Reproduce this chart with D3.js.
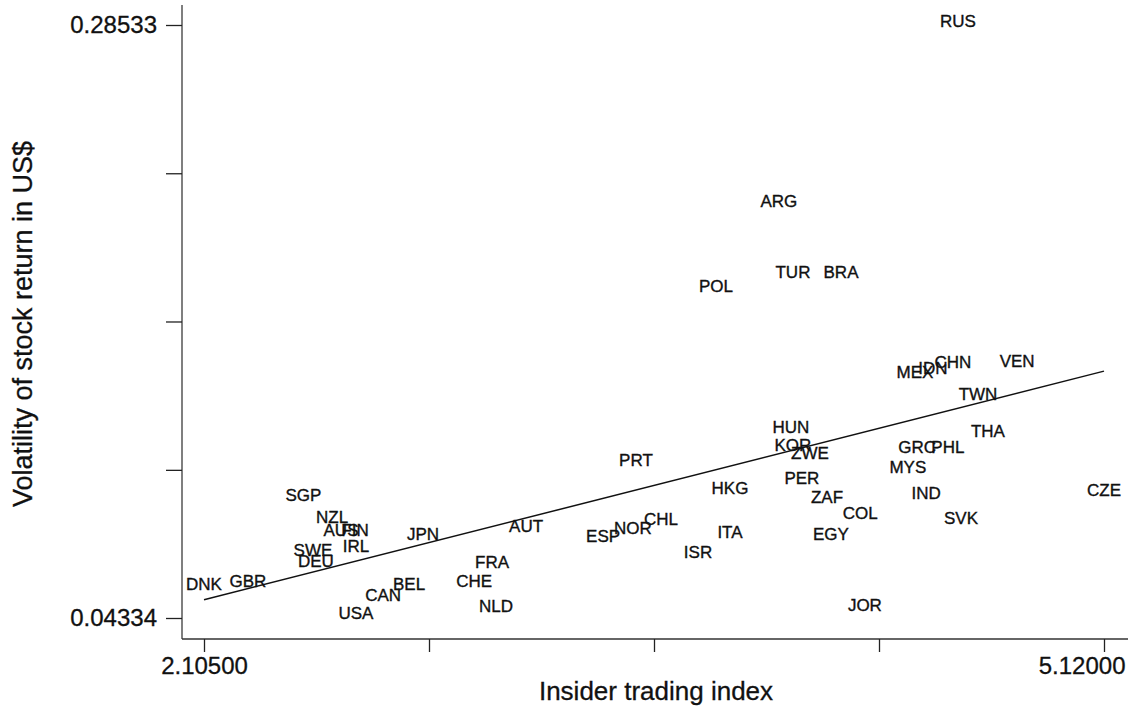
<!DOCTYPE html>
<html>
<head>
<meta charset="utf-8">
<script src="https://cdn.jsdelivr.net/npm/d3@7"></script>
<style>
  body { margin: 0; background: #fff; }
  svg { display: block; font-family: "Liberation Sans", Arial, sans-serif; }
</style>
</head>
<body>
<svg id="chart"></svg>
<script>
// country codes, insider trading index (x), volatility of stock return (y)
const countries = ["RUS","ARG","TUR","BRA","POL","MEX","IDN","CHN","VEN","TWN",
  "THA","GRC","PHL","MYS","IND","SVK","CZE","HUN","KOR","ZWE",
  "PER","HKG","ZAF","COL","EGY","JOR","PRT","ITA","ISR","CHL",
  "NOR","ESP","AUT","FRA","CHE","NLD","JPN","BEL","CAN","USA",
  "IRL","AUS","FIN","NZL","SGP","SWE","DEU","DNK","GBR"];
const insider = [4.631, 4.031, 4.078, 4.239, 3.820, 4.487, 4.547, 4.614, 4.829, 4.698,
  4.731, 4.494, 4.597, 4.463, 4.524, 4.641, 5.120, 4.071, 4.078, 4.135,
  4.108, 3.867, 4.192, 4.303, 4.205, 4.319, 3.552, 3.867, 3.760, 3.636,
  3.542, 3.442, 3.184, 3.070, 3.010, 3.083, 2.839, 2.792, 2.705, 2.614,
  2.614, 2.564, 2.611, 2.534, 2.438, 2.470, 2.480, 2.105, 2.252];
const volatility = [0.2853, 0.2115, 0.1825, 0.1825, 0.1768, 0.1417, 0.1437, 0.1458, 0.1462, 0.1331,
  0.1180, 0.1111, 0.1111, 0.1033, 0.0927, 0.0825, 0.0939, 0.1196, 0.1123, 0.1090,
  0.0988, 0.0944, 0.0907, 0.0842, 0.0756, 0.0470, 0.1058, 0.0768, 0.0686, 0.0817,
  0.0784, 0.0748, 0.0792, 0.0642, 0.0568, 0.0466, 0.0756, 0.0552, 0.0507, 0.0434,
  0.0707, 0.0776, 0.0776, 0.0829, 0.0919, 0.0691, 0.0646, 0.0552, 0.0568];
const xTicks = [2.105, 2.85875, 3.6125, 4.36625, 5.12];
const yTicks = [0.04334, 0.1038, 0.16434, 0.22483, 0.28533];
const xTickLabels = ["2.10500", "", "", "", "5.12000"];
const yTickLabels = ["0.04334", "", "", "", "0.28533"];

const width = 1134, height = 713;
const svg = d3.select("#chart").attr("width", width).attr("height", height);

const x = d3.scaleLinear().domain([2.105, 5.12]).range([204, 1104]);
const y = d3.scaleLinear().domain([0.04334, 0.28533]).range([618, 25]);

const data = countries.map((c, i) => ({ code: c, x: insider[i], y: volatility[i] }));

// axis lines
svg.append("line").attr("x1", 182).attr("x2", 182).attr("y1", 5).attr("y2", 639)
  .attr("stroke", "#555").attr("stroke-width", 1.5);
svg.append("line").attr("x1", 182).attr("x2", 1128).attr("y1", 639).attr("y2", 639)
  .attr("stroke", "#333").attr("stroke-width", 1.5);

const yAxis = svg.append("g")
  .attr("transform", "translate(182,0)")
  .call(d3.axisLeft(y).tickValues(yTicks).tickSize(16).tickPadding(9)
    .tickFormat((d, i) => yTickLabels[i]));
const xAxis = svg.append("g")
  .attr("transform", "translate(0,639)")
  .call(d3.axisBottom(x).tickValues(xTicks).tickSize(13).tickPadding(5)
    .tickFormat((d, i) => xTickLabels[i]));

[yAxis, xAxis].forEach(a => {
  a.select(".domain").remove();
  a.selectAll(".tick line").attr("stroke", "#222").attr("stroke-width", 1.3);
  a.selectAll(".tick text")
    .attr("font-family", "'Liberation Sans', Arial, sans-serif")
    .attr("font-size", 24).attr("fill", "#111")
    .attr("stroke", "#111").attr("stroke-width", 0.3);
});
// last x label sits flush right, as in the original
xAxis.selectAll(".tick text").filter((d, i) => i === xTicks.length - 1)
  .attr("text-anchor", "end").attr("x", 21);

// least squares fit
const mx = d3.mean(insider), my = d3.mean(volatility);
const slope = d3.sum(data, d => (d.x - mx) * (d.y - my)) / d3.sum(data, d => (d.x - mx) ** 2);
const icpt = my - slope * mx;
svg.append("line")
  .attr("x1", x(2.105)).attr("y1", y(icpt + slope * 2.105))
  .attr("x2", x(5.12)).attr("y2", y(icpt + slope * 5.12))
  .attr("stroke", "#111").attr("stroke-width", 1.5);

// country labels
svg.append("g")
  .selectAll("text")
  .data(data)
  .enter().append("text")
    .attr("x", d => x(d.x))
    .attr("y", d => y(d.y) - 4)
    .attr("text-anchor", "middle")
    .attr("dominant-baseline", "central")
    .attr("font-size", 17)
    .attr("fill", "#111")
    .attr("stroke", "#111").attr("stroke-width", 0.35)
    .text(d => d.code);

// axis titles
svg.append("text")
  .attr("x", 656).attr("y", 700)
  .attr("text-anchor", "middle")
  .attr("font-size", 26).attr("fill", "#111")
  .attr("stroke", "#111").attr("stroke-width", 0.3)
  .text("Insider trading index");

svg.append("text")
  .attr("transform", "translate(32,324) rotate(-90)")
  .attr("text-anchor", "middle")
  .attr("font-size", 27).attr("fill", "#111")
  .attr("stroke", "#111").attr("stroke-width", 0.3)
  .text("Volatility of stock return in US$");
</script>
</body>
</html>
